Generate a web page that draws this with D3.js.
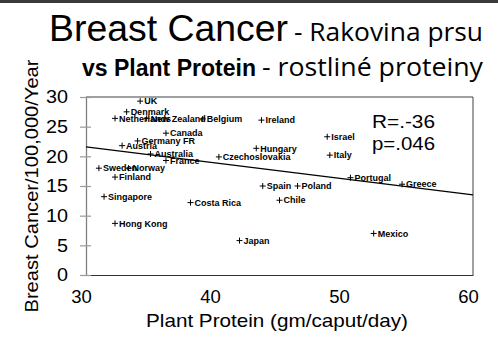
<!DOCTYPE html>
<html>
<head>
<meta charset="utf-8">
<script src="https://cdn.jsdelivr.net/npm/d3@7"></script>
<style>
  html, body { margin: 0; padding: 0; background: #fff; }
  svg { display: block; }
</style>
</head>
<body>
<svg id="chart" width="498" height="342"></svg>
<script>
// ---- data ----
const countries = ["UK","Denmark","Netherlands","New Zealand","Belgium","Ireland","Canada","Germany FR","Austria","Australia","France","Czechoslovakia","Hungary","Israel","Italy","Sweden","Norway","Finland","Portugal","Greece","Spain","Poland","Singapore","Costa Rica","Chile","Hong Kong","Japan","Mexico"];
const plantProtein = [34.2,33.15,32.25,34.7,39.05,43.6,36.2,34.0,32.8,35.0,36.2,40.3,43.2,48.7,48.9,31.0,33.3,32.25,50.5,54.5,43.7,46.4,31.4,38.1,45.0,32.25,41.9,52.3];
const breastCancer = [29.3,27.5,26.4,26.4,26.3,26.1,23.9,22.6,21.8,20.4,19.3,19.9,21.35,23.3,20.2,18.0,18.0,16.5,16.4,15.3,15.0,15.0,13.2,12.2,12.6,8.7,5.8,7.0];
const regressionX = [30, 60];
const regressionY = [21.6, 13.5];
const xTicks = [30, 40, 50, 60];
const yTicks = [0, 5, 10, 15, 20, 25, 30];
const statsText = ["R=.-36", "p=.046"];

// ---- layout ----
const svg = d3.select("#chart");
const mLeft = 86, mRight = 473, mTop = 97, mBottom = 275;
const x = d3.scaleLinear().domain([30, 60]).range([mLeft, mRight]);
const y = d3.scaleLinear().domain([0, 30]).range([mBottom, mTop]);

// top dark band
svg.append("rect").attr("x", 0).attr("y", 0).attr("width", 498).attr("height", 3).attr("fill", "#3a3a3a");

// titles
const t1 = svg.append("text").attr("y", 41).attr("fill", "#000");
t1.append("tspan").attr("x", 49).attr("font-family", "Liberation Sans, Arial, sans-serif")
  .attr("font-size", 36).attr("textLength", 239).attr("lengthAdjust", "spacingAndGlyphs").text("Breast Cancer");
t1.append("tspan").attr("x", 294).attr("font-family", "Open Sans, sans-serif")
  .attr("font-size", 26).attr("textLength", 189).attr("lengthAdjust", "spacingAndGlyphs").text("- Rakovina prsu");
const t2 = svg.append("text").attr("y", 76).attr("fill", "#000");
t2.append("tspan").attr("x", 82).attr("font-family", "Liberation Sans, Arial, sans-serif").attr("font-weight", "bold")
  .attr("font-size", 23).attr("textLength", 174).attr("lengthAdjust", "spacingAndGlyphs").text("vs Plant Protein");
t2.append("tspan").attr("x", 262).attr("font-family", "Open Sans, sans-serif")
  .attr("font-size", 25).attr("textLength", 221).attr("lengthAdjust", "spacingAndGlyphs").text("- rostliné proteiny");

// frame (top & right)
svg.append("path")
  .attr("d", `M${x(30)},${y(30)}H${x(60)}V${y(0)}`)
  .attr("fill", "none").attr("stroke", "#404040").attr("stroke-width", 1);

// x axis
const xAxis = svg.append("g").attr("transform", `translate(0,${mBottom})`)
  .call(d3.axisBottom(x).tickValues(xTicks).tickSize(0).tickPadding(15).tickFormat(d3.format("d")));
xAxis.select(".domain").attr("stroke", "#333").attr("stroke-width", 1.2);
xAxis.selectAll("text").attr("font-family", "Liberation Sans, Arial, sans-serif").attr("font-size", 18.5)
  .attr("fill", "#000").attr("dx", -5);

// y axis
const yAxis = svg.append("g").attr("transform", `translate(${mLeft},0)`)
  .call(d3.axisLeft(y).tickValues(yTicks).tickSizeInner(6).tickSizeOuter(0).tickPadding(12));
yAxis.select(".domain").attr("stroke", "#808080").attr("stroke-width", 1.3);
yAxis.selectAll(".tick line").attr("x1", 5).attr("stroke", "#9a9a9a").attr("stroke-width", 1.2);
yAxis.selectAll("text").attr("font-family", "Liberation Sans, Arial, sans-serif").attr("font-size", 18)
  .attr("fill", "#000").attr("textLength", d => d < 10 ? 11 : 22).attr("lengthAdjust", "spacingAndGlyphs");

// axis titles
svg.append("text").attr("x", 277).attr("y", 327).attr("text-anchor", "middle")
  .attr("font-family", "Liberation Sans, Arial, sans-serif").attr("font-size", 19)
  .attr("textLength", 262).attr("lengthAdjust", "spacingAndGlyphs").text("Plant Protein (gm/caput/day)");
svg.append("text").attr("transform", "translate(38,186) rotate(-90)").attr("text-anchor", "middle")
  .attr("font-family", "Liberation Sans, Arial, sans-serif").attr("font-size", 19)
  .attr("textLength", 253).attr("lengthAdjust", "spacingAndGlyphs").text("Breast Cancer/100,000/Year");

// regression line
svg.append("line")
  .attr("x1", x(regressionX[0])).attr("y1", y(regressionY[0]))
  .attr("x2", x(regressionX[1])).attr("y2", y(regressionY[1]))
  .attr("stroke", "#000").attr("stroke-width", 1.2);

// points
const pts = countries.map((c, i) => ({ c, px: plantProtein[i], bc: breastCancer[i] }));
const g = svg.append("g");
g.selectAll("path.pt").data(pts).join("path").attr("class", "pt")
  .attr("d", d => `M${x(d.px) - 3},${y(d.bc)}h6M${x(d.px)},${y(d.bc) - 3}v6`)
  .attr("stroke", "#000").attr("stroke-width", 1).attr("fill", "none");
g.selectAll("text.lbl").data(pts).join("text").attr("class", "lbl")
  .attr("x", d => x(d.px) + 4).attr("y", d => y(d.bc)).attr("dy", "0.36em")
  .attr("font-family", "Liberation Sans, Arial, sans-serif").attr("font-weight", "bold").attr("font-size", 9)
  .attr("fill", "#000").text(d => d.c);

// stats
svg.selectAll("text.stat").data(statsText).join("text").attr("class", "stat")
  .attr("x", 372).attr("y", (d, i) => 128 + i * 22)
  .attr("font-family", "Liberation Sans, Arial, sans-serif").attr("font-size", 19)
  .attr("textLength", 63).attr("lengthAdjust", "spacingAndGlyphs").text(d => d);
</script>
</body>
</html>
